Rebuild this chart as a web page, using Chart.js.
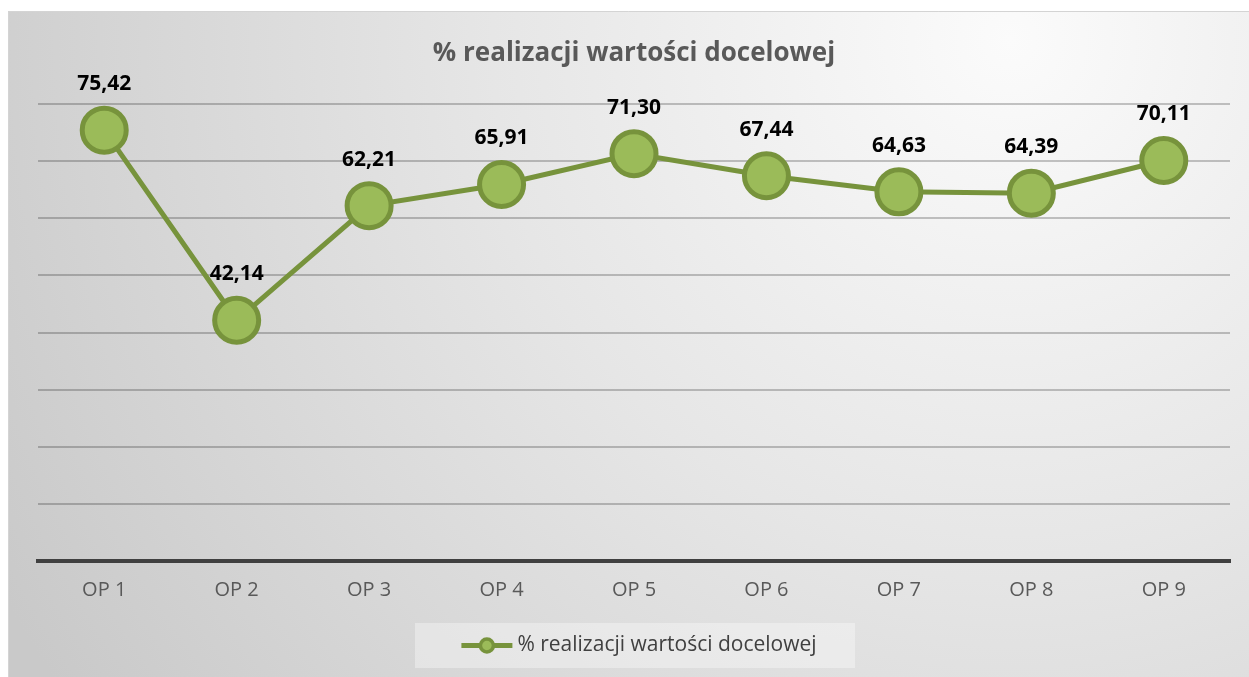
<!DOCTYPE html>
<html lang="pl">
<head>
    <meta charset="UTF-8">
    <title>% realizacji wartości docelowej</title>
    <script src="https://cdn.jsdelivr.net/npm/chart.js"></script>
    <style>
        html, body { margin: 0; padding: 0; background: #fff; overflow: hidden; }
        canvas { display: block; }
    </style>
</head>
<body>
    <canvas id="chart" width="1249" height="677"></canvas>
    <script>
        // Data
        const categories = ['OP 1', 'OP 2', 'OP 3', 'OP 4', 'OP 5', 'OP 6', 'OP 7', 'OP 8', 'OP 9'];
        const values = [75.42, 42.14, 62.21, 65.91, 71.30, 67.44, 64.63, 64.39, 70.11];
        const seriesName = '% realizacji wartości docelowej';
        const chartTitle = '% realizacji wartości docelowej';

        const LINE = '#77933C';
        const FILL = '#9BBB59';
        const FONT = '"Open Sans", Lato, sans-serif';

        // gradient background + frame
        const backdrop = {
            id: 'backdrop',
            beforeDraw(chart) {
                const ctx = chart.ctx;
                ctx.save();
                ctx.fillStyle = '#ffffff';
                ctx.fillRect(0, 0, chart.width, chart.height);
                const g = ctx.createRadialGradient(1010, 40, 0, 1010, 40, 1150);
                g.addColorStop(0, '#fbfbfb');
                g.addColorStop(0.45, '#e6e6e6');
                g.addColorStop(1, '#c9c9c9');
                ctx.fillStyle = g;
                ctx.fillRect(8, 11, chart.width - 8, chart.height - 11);
                ctx.strokeStyle = '#d4d4d4';
                ctx.lineWidth = 1;
                ctx.beginPath();
                ctx.moveTo(8.5, chart.height);
                ctx.lineTo(8.5, 11.5);
                ctx.lineTo(chart.width, 11.5);
                ctx.stroke();
                ctx.restore();
            }
        };

        // value labels above the points
        const valueLabels = {
            id: 'valueLabels',
            afterDatasetsDraw(chart) {
                const ctx = chart.ctx;
                const meta = chart.getDatasetMeta(0);
                ctx.save();
                ctx.font = 'bold 21px ' + FONT;
                ctx.fillStyle = '#000000';
                ctx.textAlign = 'center';
                ctx.textBaseline = 'alphabetic';
                meta.data.forEach((pt, i) => {
                    const txt = values[i].toFixed(2).replace('.', ',');
                    ctx.fillText(txt, pt.x, pt.y - 40);
                });
                ctx.restore();
            }
        };

        // legend box at the bottom
        const legendBox = {
            id: 'legendBox',
            afterDraw(chart) {
                const ctx = chart.ctx;
                ctx.save();
                ctx.font = '21px ' + FONT;
                const tw = ctx.measureText(seriesName).width;
                const symW = 51, gap = 5;
                const total = symW + gap + tw;
                const bx = 415, bw = 440, bh = 45;
                const by = 623;
                ctx.fillStyle = 'rgba(255,255,255,0.35)';
                ctx.fillRect(bx, by, bw, bh);
                const sx = 639 - total / 2;
                const sy = by + bh / 2;
                ctx.strokeStyle = LINE;
                ctx.lineWidth = 5;
                ctx.beginPath();
                ctx.moveTo(sx, sy);
                ctx.lineTo(sx + symW, sy);
                ctx.stroke();
                ctx.beginPath();
                ctx.arc(sx + symW / 2, sy, 6.5, 0, Math.PI * 2);
                ctx.fillStyle = FILL;
                ctx.fill();
                ctx.lineWidth = 3.5;
                ctx.stroke();
                ctx.fillStyle = '#404040';
                ctx.textAlign = 'left';
                ctx.textBaseline = 'middle';
                ctx.fillText(seriesName, sx + symW + gap, sy);
                ctx.restore();
            }
        };

        new Chart(document.getElementById('chart'), {
            type: 'line',
            data: {
                labels: categories,
                datasets: [{
                    label: seriesName,
                    data: values,
                    borderColor: LINE,
                    borderWidth: 5,
                    backgroundColor: FILL,
                    pointBackgroundColor: FILL,
                    pointBorderColor: LINE,
                    pointBorderWidth: 5,
                    pointRadius: 22,
                    pointHoverRadius: 22,
                    tension: 0,
                    clip: false
                }]
            },
            options: {
                responsive: false,
                animation: false,
                layout: { autoPadding: false, padding: { left: 38, right: 19, top: 0, bottom: 0 } },
                plugins: {
                    legend: { display: false },
                    tooltip: { enabled: false },
                    title: {
                        display: true,
                        text: chartTitle,
                        color: '#595959',
                        font: { family: FONT, size: 26, weight: 'bold', lineHeight: 1.2 },
                        padding: { top: 38, bottom: 34.8 }
                    }
                },
                scales: {
                    x: {
                        offset: true,
                        grid: { display: false, drawTicks: false },
                        border: { display: true, color: '#404040', width: 4 },
                        ticks: { color: '#595959', font: { family: FONT, size: 20 }, padding: 17 },
                        afterFit(scale) {
                            scale.height = 116;
                            scale.paddingLeft = 0;
                            scale.paddingRight = 0;
                        }
                    },
                    y: {
                        min: 0,
                        max: 80,
                        ticks: { display: false, stepSize: 10 },
                        border: { display: false },
                        grid: {
                            drawTicks: false,
                            lineWidth: 2,
                            color: ctx => ctx.tick && ctx.tick.value === 0 ? 'rgba(0,0,0,0)' : 'rgba(0,0,0,0.22)'
                        },
                        afterFit(scale) { scale.width = 0; }
                    }
                }
            },
            plugins: [backdrop, valueLabels, legendBox]
        });
    </script>
</body>
</html>
